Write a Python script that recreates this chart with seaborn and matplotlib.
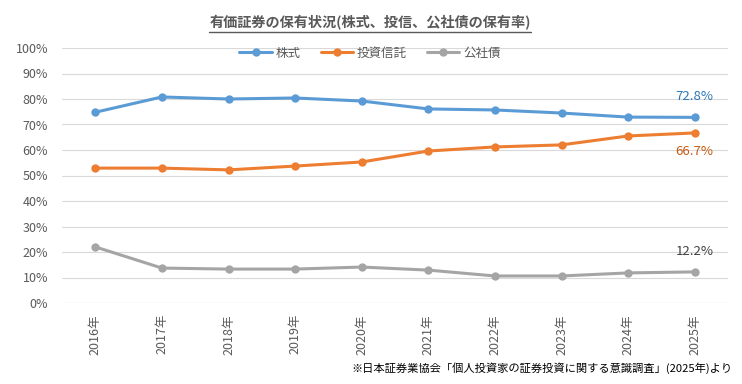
import numpy as np
import pandas as pd
import seaborn as sns
import matplotlib.pyplot as plt
from matplotlib.lines import Line2D

sns.set_style('white')
plt.rcParams['font.family'] = ['Noto Sans CJK JP', 'DejaVu Sans']

years = ['2016年', '2017年', '2018年', '2019年', '2020年',
         '2021年', '2022年', '2023年', '2024年', '2025年']
stocks = [74.8, 80.8, 80.0, 80.4, 79.2, 76.1, 75.7, 74.5, 72.9, 72.8]
trusts = [52.9, 52.9, 52.2, 53.7, 55.3, 59.6, 61.2, 62.0, 65.5, 66.7]
bonds = [22.0, 13.7, 13.3, 13.3, 14.1, 12.9, 10.6, 10.6, 11.8, 12.2]
series_names = ['株式', '投資信託', '公社債']
colors = ['#5B9BD5', '#ED7D31', '#A5A5A5']
label_colors = ['#2E75B6', '#C55A11', '#404040']

df = pd.DataFrame({'year': years * 3,
                   'value': np.array(stocks + trusts + bonds) / 100,
                   'series': np.repeat(series_names, len(years))})

fig = plt.figure(figsize=(7.42, 3.84), dpi=100)
ax = fig.add_axes([62 / 742, 1 - 303 / 384, 666 / 742, 255 / 384])

sns.lineplot(data=df, x='year', y='value', hue='series', palette=colors,
             marker='o', markersize=6, markeredgewidth=0, linewidth=2.2,
             sort=False, ax=ax)

ax.set_xlim(-0.5, len(years) - 0.5)
ax.set_ylim(0, 1)
ax.set_yticks(np.arange(0, 1.01, 0.1))
ax.set_yticklabels([f'{int(round(v * 100))}%' for v in np.arange(0, 1.01, 0.1)])
ax.grid(axis='y', color='#D9D9D9', linewidth=0.8)
ax.set_axisbelow(True)
for s in ax.spines.values():
    s.set_visible(False)
ax.axhline(0, color='#D9D9D9', linewidth=0.8, zorder=0)
ax.tick_params(axis='both', length=0, colors='#595959', labelsize=9)
ax.tick_params(axis='x', rotation=90, pad=8)
ax.tick_params(axis='y', pad=10)
ax.set_xlabel('')
ax.set_ylabel('')

last = len(years) - 1
ax.annotate(f'{stocks[-1]}%', (last, stocks[-1] / 100), xytext=(0, 10),
            textcoords='offset points', ha='center', va='bottom',
            color=label_colors[0], fontsize=9.5)
ax.annotate(f'{trusts[-1]}%', (last, trusts[-1] / 100), xytext=(0, -9),
            textcoords='offset points', ha='center', va='top',
            color=label_colors[1], fontsize=9.5)
ax.annotate(f'{bonds[-1]}%', (last, bonds[-1] / 100), xytext=(0, 10),
            textcoords='offset points', ha='center', va='bottom',
            color=label_colors[2], fontsize=9.5)

handles, labels = ax.get_legend_handles_labels()
ax.legend(handles, labels, loc='center', bbox_to_anchor=(370 / 742, 1 - 53 / 384),
          bbox_transform=fig.transFigure, ncol=3, frameon=False, fontsize=9,
          handlelength=2.6, columnspacing=1.6, handletextpad=0.3,
          labelcolor='#595959')

title = fig.text(370 / 742, 1 - 23 / 384, '有価証券の保有状況(株式、投信、公社債の保有率)',
                 ha='center', va='center', fontsize=10.2, fontweight='bold',
                 color='#595959')
fig.canvas.draw()
bb = title.get_window_extent().transformed(fig.transFigure.inverted())
fig.add_artist(Line2D([bb.x0, bb.x1], [bb.y0 - 0.003, bb.y0 - 0.003],
                      color='#595959', linewidth=1, transform=fig.transFigure))

fig.text(733 / 742, 1 - 368 / 384,
         '※日本証券業協会「個人投資家の証券投資に関する意識調査」(2025年)より',
         ha='right', va='center', fontsize=8.1, color='#000000')

fig.savefig('out.png', dpi=100)
